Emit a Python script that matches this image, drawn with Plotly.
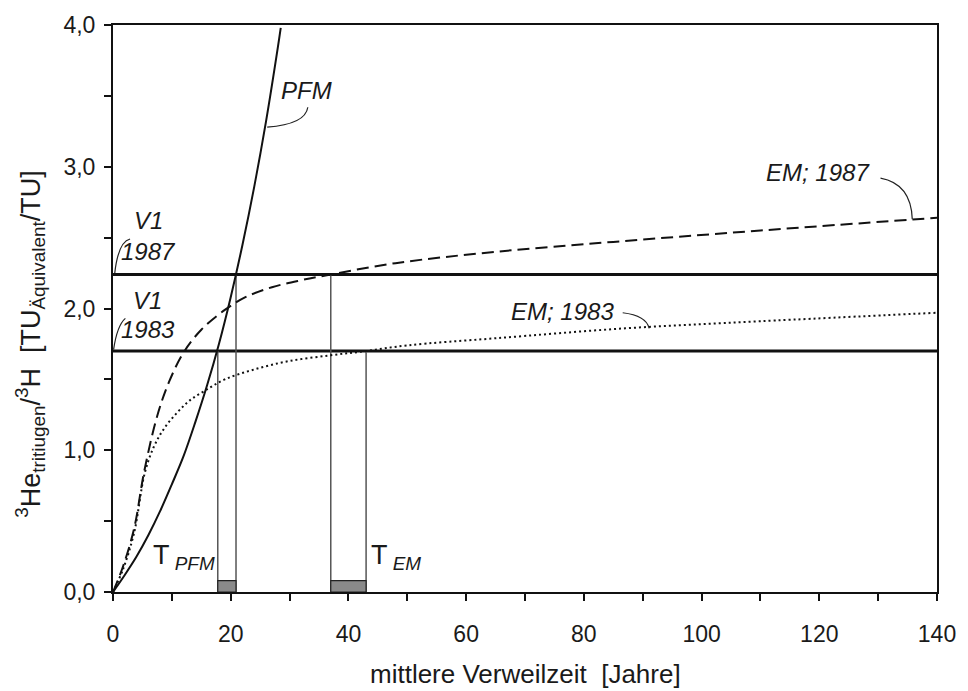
import plotly.graph_objects as go

# ---------------- data ----------------
pfm_x = [0, 2, 4, 6, 8, 10, 12, 14, 16, 18, 20, 22, 24, 26, 28, 28.5]
pfm_y = [0, 0.12, 0.25, 0.40, 0.57, 0.76, 0.96, 1.20, 1.46, 1.75, 2.08, 2.45, 2.86, 3.32, 3.84, 3.98]

em1987_x = [0, 1.7, 3.6, 5.3, 7.5, 9.5, 12, 15, 19, 22.5, 27, 32, 37, 48, 65, 85, 110, 140]
em1987_y = [0, 0.18, 0.45, 0.85, 1.24, 1.48, 1.69, 1.85, 1.99, 2.08, 2.15, 2.20, 2.24, 2.32, 2.40, 2.47, 2.55, 2.64]

em1983_x = [0, 1.7, 3.6, 5.4, 7, 8.8, 11, 13, 15.6, 19, 24, 30, 37, 43, 50, 65, 87, 110, 140]
em1983_y = [0, 0.16, 0.42, 0.84, 1.03, 1.16, 1.27, 1.35, 1.42, 1.50, 1.57, 1.63, 1.67, 1.70, 1.74, 1.79, 1.86, 1.91, 1.97]

v1_levels = [2.24, 1.70]          # V1 1987, V1 1983
x_range = [0, 140]
y_range = [0, 4]

# residence-time brackets: (x, top level)
bracket_x = [17.8, 20.9, 37.0, 43.0]
bracket_top = [1.70, 2.24, 2.24, 1.70]
box_x0 = [17.8, 37.0]
box_x1 = [20.9, 43.0]
box_h = 0.08

x_tickvals = [0, 20, 40, 60, 80, 100, 120, 140]
x_ticktext = ["0", "20", "40", "60", "80", "100", "120", "140"]
y_tickvals = [0, 1, 2, 3, 4]
y_ticktext = ["0,0", "1,0", "2,0", "3,0", "4,0"]

# labels (text, x, y)
labels = [
    ("<i>PFM</i>", 32.9, 3.54),
    ("<i>EM; 1987</i>", 119.8, 2.96),
    ("<i>EM; 1983</i>", 76.4, 1.98),
    ("<i>V1</i>", 6.1, 2.62),
    ("<i>1987</i>", 6.1, 2.40),
    ("<i>V1</i>", 5.8, 2.06),
    ("<i>1983</i>", 6.0, 1.85),
]
t_labels = [
    ("T<sub> <i>PFM</i></sub>", 12.0, 0.25),
    ("T<sub> <i>EM</i></sub>", 48.0, 0.25),
]
# leader curves: start, control, end
leaders = [
    ((33.1, 3.42), (32.7, 3.30), (26.2, 3.28)),
    ((130.4, 2.92), (135.6, 2.88), (135.8, 2.63)),
    ((86.6, 1.97), (90.6, 1.95), (91.1, 1.86)),
    ((2.9, 2.49), (0.9, 2.47), (0.3, 2.25)),
    ((2.1, 1.93), (0.7, 1.88), (0.1, 1.71)),
]

FONT = "Liberation Sans, Arial, sans-serif"

fig = go.Figure()

# horizontal V1 levels
for lv in v1_levels:
    fig.add_trace(go.Scatter(x=x_range, y=[lv, lv], mode="lines",
                             line=dict(color="#111", width=3), hoverinfo="skip"))

# vertical bracket lines
for bx, bt in zip(bracket_x, bracket_top):
    fig.add_trace(go.Scatter(x=[bx, bx], y=[0, bt], mode="lines",
                             line=dict(color="#555", width=1.5), hoverinfo="skip"))

# curves
fig.add_trace(go.Scatter(x=pfm_x, y=pfm_y, mode="lines", line_shape="spline",
                         line=dict(color="#111", width=2)))
fig.add_trace(go.Scatter(x=em1987_x, y=em1987_y, mode="lines", line_shape="spline",
                         line=dict(color="#111", width=2, dash="12px,6px")))
fig.add_trace(go.Scatter(x=em1983_x, y=em1983_y, mode="lines", line_shape="spline",
                         line=dict(color="#111", width=2, dash="2px,3px")))

# small boxes at bottom
for x0, x1 in zip(box_x0, box_x1):
    fig.add_shape(type="rect", xref="x", yref="y", x0=x0, x1=x1, y0=0, y1=box_h,
                  fillcolor="#8a8a8a", line=dict(color="#222", width=1.2))

# leader curves
for (s, c, e) in leaders:
    fig.add_shape(type="path", xref="x", yref="y",
                  path=f"M {s[0]},{s[1]} Q {c[0]},{c[1]} {e[0]},{e[1]}",
                  line=dict(color="#222", width=1.2))

for txt, x, y in labels:
    fig.add_annotation(x=x, y=y, text=txt, showarrow=False, xanchor="center", yanchor="middle",
                       font=dict(family=FONT, size=24, color="#1a1a1a"))
for txt, x, y in t_labels:
    fig.add_annotation(x=x, y=y, text=txt, showarrow=False, xanchor="center", yanchor="middle",
                       font=dict(family=FONT, size=27, color="#1a1a1a"))

# axis titles as annotations
fig.add_annotation(xref="paper", yref="paper", x=0.5, y=-0.144, showarrow=False,
                   text="mittlere Verweilzeit  [Jahre]", xanchor="center", yanchor="middle",
                   font=dict(family=FONT, size=26, color="#1a1a1a"))
fig.add_annotation(xref="paper", yref="paper", x=-0.1, y=0.437, showarrow=False, textangle=-90,
                   text="<sup>3</sup>He<sub>tritiugen</sub>/<sup>3</sup>H  [TU<sub>Äquivalent</sub>/TU]",
                   xanchor="center", yanchor="middle",
                   font=dict(family=FONT, size=27, color="#1a1a1a"))

fig.update_layout(
    width=968, height=691,
    margin=dict(l=113, r=25, t=24, b=99),
    paper_bgcolor="white", plot_bgcolor="white",
    showlegend=False,
    font=dict(family=FONT, size=23, color="#1a1a1a"),
)
fig.update_xaxes(range=x_range, tickvals=x_tickvals, ticktext=x_ticktext,
                 showgrid=False, zeroline=False, showline=True, mirror=True,
                 linecolor="#111", linewidth=2, ticks="outside", ticklen=7, tickwidth=1.5,
                 tickcolor="#111", ticklabelstandoff=13,
                 minor=dict(dtick=10, ticks="outside", ticklen=7, tickwidth=1.5, tickcolor="#111"))
fig.update_yaxes(range=y_range, tickvals=y_tickvals, ticktext=y_ticktext,
                 showgrid=False, zeroline=False, showline=True, mirror=True,
                 linecolor="#111", linewidth=2, ticks="outside", ticklen=7, tickwidth=1.5,
                 tickcolor="#111", ticklabelstandoff=4,
                 minor=dict(dtick=0.5, ticks="outside", ticklen=7, tickwidth=1.5, tickcolor="#111"))

fig.write_html(
    "out.html",
    config={"displayModeBar": False},
    post_script="document.body.style.margin='0';document.body.style.overflow='hidden';"
                "document.documentElement.style.overflow='hidden';",
)
